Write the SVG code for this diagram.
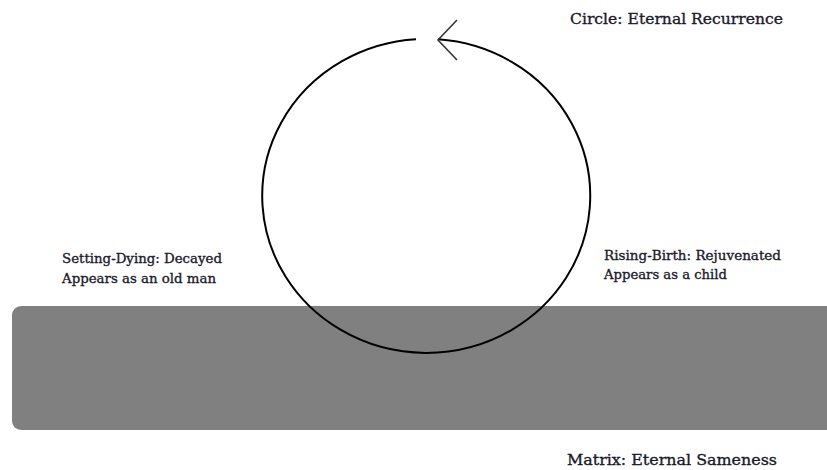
<svg xmlns="http://www.w3.org/2000/svg" width="827" height="470" viewBox="0 0 827 470">
<style>
.t{font-family:"DejaVu Serif","Liberation Serif",serif;fill:#1a1a2a;stroke:#1a1a2a;stroke-width:0.35;}
.title{font-size:15.5px;}
.lbl{font-size:13.5px;}
.ln{fill:none;stroke:#000;stroke-width:2;}
.ar{fill:none;stroke:#333;stroke-width:1.6;}
</style>
<rect width="827" height="470" fill="#fff"/>
<g id="matrix">
<rect x="12" y="306" width="830" height="124" rx="9" fill="#808080"/>
</g>
<g id="connectors">
<path class="ln" d="M 438 39.3 A 164 157 0 1 1 416 39.2"/>
<path class="ar" d="M 457 20 L 438 40 L 457 60"/>
</g>
<g id="circle-label">
<text class="t title" x="570" y="24" textLength="213" lengthAdjust="spacingAndGlyphs">Circle: Eternal Recurrence</text>
</g>
<g id="setting-dying">
<text class="t lbl" x="62" y="263" textLength="160" lengthAdjust="spacingAndGlyphs">Setting-Dying: Decayed</text>
<text class="t lbl" x="62" y="283" textLength="154" lengthAdjust="spacingAndGlyphs">Appears as an old man</text>
</g>
<g id="rising-birth">
<text class="t lbl" x="604" y="260" textLength="177" lengthAdjust="spacingAndGlyphs">Rising-Birth: Rejuvenated</text>
<text class="t lbl" x="604" y="279" textLength="123" lengthAdjust="spacingAndGlyphs">Appears as a child</text>
</g>
<g id="matrix-label">
<text class="t title" x="567" y="465" textLength="210" lengthAdjust="spacingAndGlyphs">Matrix: Eternal Sameness</text>
</g>
</svg>
